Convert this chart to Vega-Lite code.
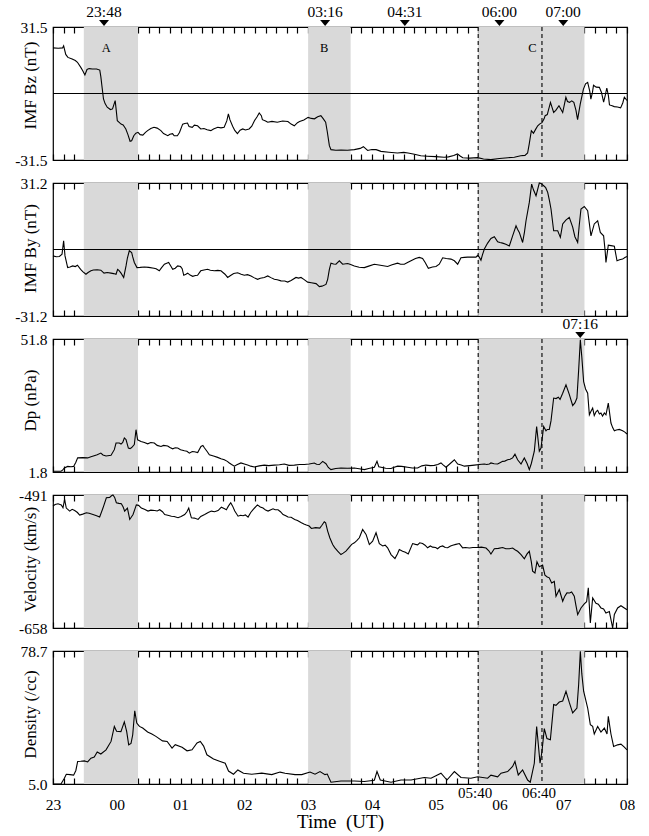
{
  "$schema": "https://vega.github.io/schema/vega-lite/v6.json",
  "padding": {"top": 4, "left": 14, "right": 5, "bottom": 4},
  "spacing": 23,
  "bounds": "flush",
  "config": {
    "font": "Liberation Serif",
    "view": {"stroke": "black", "strokeWidth": 1.2},
    "axis": {"grid": false, "domain": false, "labelFont": "Liberation Serif", "titleFont": "Liberation Serif", "labelColor": "black", "titleColor": "black", "tickColor": "black", "labelFontSize": 15.5, "titleFontSize": 17, "titleFontWeight": "normal"},
    "axisX": {"tickSize": -6, "tickWidth": 1.2, "tickCount": 54, "labelFlush": false, "labelOverlap": false},
    "axisY": {"ticks": false, "labelPadding": 6, "labelExpr": "replace(datum.label, '\u2212', '-')", "titleX": -23, "titleBaseline": "middle", "titleAngle": -90, "titleAlign": "center"}
  },
  "datasets": {
    "bands": [{"start": 29, "end": 80}, {"start": 240, "end": 280}, {"start": 400, "end": 500}],
    "cuts": [{"minute": 400, "label": "05:40"}, {"minute": 460, "label": "06:40"}],
    "events": [{"minute": 48, "label": "23:48"}, {"minute": 256, "label": "03:16"}, {"minute": 331, "label": "04:31"}, {"minute": 420, "label": "06:00"}, {"minute": 480, "label": "07:00"}],
    "peak": [{"minute": 496, "label": "07:16"}],
    "regions": [{"minute": 50, "value": 21.5, "label": "A"}, {"minute": 255, "value": 21.5, "label": "B"}, {"minute": 451, "value": 21.5, "label": "C"}],
    "bz": [
      {"minute":0,"value":21.6},{"minute":5,"value":21.4},{"minute":9,"value":21.6},{"minute":10,"value":22.6},{"minute":12,"value":18.5},{"minute":14,"value":17.1},{"minute":18,"value":16.3},{"minute":21,"value":15.6},{"minute":23,"value":14.8},{"minute":26,"value":12.5},{"minute":28,"value":10.8},{"minute":30,"value":8.8},{"minute":32,"value":11.4},{"minute":34,"value":11.8},{"minute":37,"value":11.6},{"minute":41,"value":11.6},{"minute":44,"value":11.1},{"minute":45,"value":8},{"minute":46,"value":3.7},{"minute":47.5,"value":-2.6},{"minute":49,"value":-4.8},{"minute":51,"value":-6.5},{"minute":54,"value":-7.6},{"minute":56,"value":-7.3},{"minute":58.5,"value":-3.4},{"minute":59.5,"value":-8},{"minute":60.5,"value":-12.9},{"minute":62,"value":-13.6},{"minute":64,"value":-14.5},{"minute":66,"value":-14.9},{"minute":68.5,"value":-16.8},{"minute":70.5,"value":-19.5},{"minute":72.5,"value":-22.6},{"minute":74,"value":-22.4},{"minute":76,"value":-20},{"minute":78,"value":-18.8},{"minute":80,"value":-18.4},{"minute":82,"value":-19.5},{"minute":84.5,"value":-19.7},{"minute":87,"value":-18.4},{"minute":89,"value":-17.6},{"minute":92,"value":-16.6},{"minute":95,"value":-16},{"minute":98,"value":-16.4},{"minute":101.5,"value":-17.6},{"minute":104,"value":-19},{"minute":108,"value":-20},{"minute":110,"value":-19.3},{"minute":112.5,"value":-19},{"minute":114,"value":-20},{"minute":117,"value":-20},{"minute":119,"value":-18.5},{"minute":122,"value":-14.5},{"minute":124,"value":-14.2},{"minute":126.5,"value":-14},{"minute":128,"value":-15.6},{"minute":131,"value":-16},{"minute":133,"value":-15},{"minute":136,"value":-15.3},{"minute":139,"value":-16.8},{"minute":142,"value":-16.6},{"minute":145,"value":-17.2},{"minute":148.5,"value":-17.6},{"minute":151,"value":-16.8},{"minute":155,"value":-16},{"minute":158,"value":-16.3},{"minute":161,"value":-16},{"minute":163.5,"value":-13},{"minute":165,"value":-9.7},{"minute":166.5,"value":-12.5},{"minute":169,"value":-15.5},{"minute":171,"value":-17.5},{"minute":173.5,"value":-19},{"minute":176,"value":-17.4},{"minute":178.5,"value":-16.8},{"minute":181,"value":-17.3},{"minute":184.5,"value":-16.8},{"minute":187,"value":-15.5},{"minute":189.5,"value":-12.9},{"minute":192,"value":-11},{"minute":194,"value":-9.2},{"minute":196,"value":-10.5},{"minute":197,"value":-12.4},{"minute":200,"value":-13},{"minute":202,"value":-13.6},{"minute":206,"value":-13.2},{"minute":211,"value":-13.6},{"minute":216,"value":-13},{"minute":221,"value":-13.3},{"minute":224,"value":-14.5},{"minute":227,"value":-15.3},{"minute":230,"value":-13.8},{"minute":232,"value":-13.3},{"minute":236,"value":-12.5},{"minute":240,"value":-11.3},{"minute":243,"value":-11.8},{"minute":246,"value":-12},{"minute":249,"value":-11},{"minute":252,"value":-10.5},{"minute":254,"value":-11.8},{"minute":256.5,"value":-13.6},{"minute":258,"value":-18},{"minute":260,"value":-24.7},{"minute":261.5,"value":-26.6},{"minute":266,"value":-26.9},{"minute":271,"value":-26.8},{"minute":277,"value":-26.9},{"minute":283.5,"value":-26.6},{"minute":289,"value":-26},{"minute":292,"value":-25.2},{"minute":296,"value":-27},{"minute":300,"value":-26.5},{"minute":304,"value":-26.6},{"minute":308.5,"value":-27.4},{"minute":316,"value":-27.8},{"minute":324,"value":-28.2},{"minute":330,"value":-27.9},{"minute":334,"value":-28.2},{"minute":340,"value":-28.8},{"minute":346,"value":-29.5},{"minute":352,"value":-29.7},{"minute":360,"value":-29.9},{"minute":368,"value":-30.2},{"minute":372,"value":-30},{"minute":377,"value":-29.4},{"minute":380.5,"value":-28.6},{"minute":383,"value":-29.6},{"minute":385.5,"value":-30.4},{"minute":392,"value":-30.6},{"minute":399.5,"value":-30.4},{"minute":405,"value":-31},{"minute":412,"value":-31.3},{"minute":420,"value":-30.8},{"minute":428,"value":-30.4},{"minute":434,"value":-30.2},{"minute":440,"value":-29.5},{"minute":444,"value":-29.3},{"minute":446.5,"value":-28.2},{"minute":448,"value":-24},{"minute":450,"value":-17.6},{"minute":452,"value":-18.8},{"minute":454,"value":-17},{"minute":456,"value":-15.3},{"minute":458,"value":-14.4},{"minute":460,"value":-13.8},{"minute":462,"value":-12},{"minute":463,"value":-10.5},{"minute":465,"value":-10},{"minute":468,"value":-4.2},{"minute":471,"value":-9},{"minute":473,"value":-8},{"minute":476,"value":-5.8},{"minute":479.5,"value":-9},{"minute":482.5,"value":-1.8},{"minute":484,"value":-3.8},{"minute":486,"value":-4.2},{"minute":488,"value":-3.5},{"minute":490,"value":-4.2},{"minute":492,"value":-8},{"minute":493.5,"value":-12.4},{"minute":496,"value":-5},{"minute":499,"value":2.1},{"minute":501,"value":4.6},{"minute":503,"value":5.3},{"minute":505,"value":1},{"minute":506,"value":-2.7},{"minute":507.5,"value":0.5},{"minute":508.5,"value":3.9},{"minute":511,"value":3},{"minute":514,"value":2.9},{"minute":516,"value":0.5},{"minute":518,"value":-4.1},{"minute":519.5,"value":-1},{"minute":521,"value":2.6},{"minute":522.5,"value":-1},{"minute":523.5,"value":-5.4},{"minute":526,"value":-5.8},{"minute":528,"value":-6.2},{"minute":531,"value":-6.4},{"minute":534,"value":-6.8},{"minute":536,"value":-4.5},{"minute":537.5,"value":-1.7},{"minute":540,"value":-3.3}
    ],
    "by": [
      {"minute":0,"value":-3},{"minute":3,"value":-3.4},{"minute":6,"value":-3.3},{"minute":8.5,"value":-2.2},{"minute":10,"value":4.1},{"minute":11.3,"value":-3},{"minute":13.8,"value":-8.5},{"minute":16,"value":-8.2},{"minute":18.5,"value":-7.7},{"minute":21,"value":-8},{"minute":23,"value":-7.4},{"minute":26,"value":-9.3},{"minute":28,"value":-10.4},{"minute":31,"value":-11.6},{"minute":33,"value":-10.8},{"minute":35.7,"value":-10},{"minute":38,"value":-9.6},{"minute":41.6,"value":-9.5},{"minute":45,"value":-9.7},{"minute":48,"value":-11.1},{"minute":51,"value":-10.8},{"minute":54.6,"value":-11.1},{"minute":57,"value":-11.3},{"minute":59.3,"value":-11.6},{"minute":60.8,"value":-9.3},{"minute":62,"value":-9.8},{"minute":64,"value":-11.1},{"minute":66.5,"value":-13.1},{"minute":68.7,"value":-7.7},{"minute":70,"value":-4},{"minute":71.8,"value":-0.6},{"minute":74,"value":-1.4},{"minute":75,"value":-3.5},{"minute":76.5,"value":-6.1},{"minute":79,"value":-8.5},{"minute":82,"value":-8.4},{"minute":86,"value":-8.2},{"minute":90,"value":-8.4},{"minute":95,"value":-8.8},{"minute":97,"value":-9},{"minute":100,"value":-10},{"minute":102,"value":-8.6},{"minute":104.8,"value":-6.9},{"minute":107,"value":-6.4},{"minute":108.8,"value":-6.1},{"minute":110.5,"value":-7.5},{"minute":112.6,"value":-9.3},{"minute":115,"value":-8.8},{"minute":117.3,"value":-7.7},{"minute":120,"value":-8},{"minute":121.5,"value":-9},{"minute":123,"value":-12.1},{"minute":125,"value":-11.6},{"minute":126.7,"value":-11.1},{"minute":129,"value":-12},{"minute":131.4,"value":-12.6},{"minute":134,"value":-12.2},{"minute":136,"value":-12.1},{"minute":139,"value":-10},{"minute":142,"value":-9.6},{"minute":145.5,"value":-9.3},{"minute":148,"value":-9.7},{"minute":151.8,"value":-10},{"minute":155,"value":-9.8},{"minute":158,"value":-10},{"minute":161.8,"value":-11.6},{"minute":164.3,"value":-13.1},{"minute":167.4,"value":-12.1},{"minute":170,"value":-11.3},{"minute":173.7,"value":-10.9},{"minute":177,"value":-11.6},{"minute":180,"value":-12.1},{"minute":183,"value":-11.8},{"minute":186.3,"value":-12.4},{"minute":189,"value":-13.2},{"minute":192.5,"value":-14},{"minute":195,"value":-13.5},{"minute":198.8,"value":-13.1},{"minute":202,"value":-12.4},{"minute":205,"value":-13.2},{"minute":208.2,"value":-14},{"minute":211,"value":-14.2},{"minute":214.5,"value":-14.7},{"minute":218,"value":-14.8},{"minute":220.8,"value":-15.3},{"minute":224,"value":-14.5},{"minute":228.6,"value":-13.1},{"minute":231,"value":-13.4},{"minute":233.3,"value":-13.1},{"minute":236,"value":-14},{"minute":239.6,"value":-15.3},{"minute":243,"value":-15.6},{"minute":247.5,"value":-16},{"minute":250.6,"value":-17.4},{"minute":253,"value":-17.2},{"minute":256.8,"value":-16.4},{"minute":258.4,"value":-14},{"minute":260,"value":-9.3},{"minute":261.5,"value":-6.4},{"minute":264,"value":-6.8},{"minute":266.2,"value":-6.9},{"minute":269.4,"value":-5.3},{"minute":272.5,"value":-6.9},{"minute":277.2,"value":-6.6},{"minute":280,"value":-7},{"minute":283.5,"value":-7.7},{"minute":288,"value":-8.3},{"minute":292.9,"value":-8.5},{"minute":297,"value":-7.8},{"minute":302.3,"value":-6.9},{"minute":308,"value":-7.4},{"minute":314.8,"value":-8},{"minute":319,"value":-7.2},{"minute":324.2,"value":-6.4},{"minute":327,"value":-6.9},{"minute":330.5,"value":-6.9},{"minute":334,"value":-6},{"minute":336.8,"value":-5.3},{"minute":341,"value":-4.2},{"minute":344.6,"value":-3.7},{"minute":347.7,"value":-4.2},{"minute":350,"value":-6},{"minute":353.1,"value":-8.8},{"minute":357,"value":-8.2},{"minute":360.3,"value":-8},{"minute":363.4,"value":-6.9},{"minute":366.6,"value":-3.9},{"minute":370,"value":-4.2},{"minute":374.4,"value":-4.5},{"minute":377.6,"value":-5.3},{"minute":380.7,"value":-6.9},{"minute":383.8,"value":-3.9},{"minute":387,"value":-3.7},{"minute":390.1,"value":-3.6},{"minute":394,"value":-3.5},{"minute":398,"value":-3.6},{"minute":399.5,"value":-2.7},{"minute":401,"value":-3.5},{"minute":402.6,"value":-5},{"minute":404,"value":-2.5},{"minute":405.8,"value":0.2},{"minute":408.9,"value":3},{"minute":412,"value":5.2},{"minute":415.2,"value":6},{"minute":418.3,"value":3.6},{"minute":420.5,"value":3.3},{"minute":423,"value":3},{"minute":426,"value":2.5},{"minute":429.3,"value":1.7},{"minute":432.4,"value":6.4},{"minute":435.6,"value":11.1},{"minute":437,"value":9.5},{"minute":438.7,"value":8},{"minute":441.8,"value":3.3},{"minute":443.5,"value":8},{"minute":445,"value":13.5},{"minute":448.1,"value":22.1},{"minute":450.3,"value":30.7},{"minute":452,"value":28},{"minute":454.4,"value":25.2},{"minute":457.5,"value":31.2},{"minute":459,"value":31},{"minute":461.6,"value":29.9},{"minute":463.5,"value":29},{"minute":465.4,"value":26.8},{"minute":467,"value":23},{"minute":468.5,"value":19},{"minute":471,"value":8.8},{"minute":474.8,"value":8.8},{"minute":477.3,"value":5.7},{"minute":479.5,"value":12},{"minute":482.5,"value":13.8},{"minute":485.7,"value":15.1},{"minute":488.9,"value":10.5},{"minute":491,"value":6},{"minute":493.6,"value":3.3},{"minute":495,"value":11},{"minute":496.7,"value":19},{"minute":499.8,"value":20.2},{"minute":503,"value":18.2},{"minute":506.1,"value":6.4},{"minute":509.2,"value":12},{"minute":512.4,"value":13.5},{"minute":514.9,"value":8},{"minute":518,"value":6.4},{"minute":519.5,"value":-1},{"minute":520.2,"value":-6.1},{"minute":522.4,"value":2},{"minute":524.9,"value":1.8},{"minute":528.1,"value":1.5},{"minute":530.6,"value":-5.3},{"minute":533,"value":-4.8},{"minute":535.9,"value":-4.5},{"minute":538,"value":-3.8},{"minute":540,"value":-3.3}
    ],
    "dp": [
      {"minute":0,"value":2.1},{"minute":7.5,"value":2.1},{"minute":9,"value":2.5},{"minute":10.7,"value":3.3},{"minute":13.8,"value":3.9},{"minute":17,"value":3.8},{"minute":19.4,"value":3.9},{"minute":21.5,"value":5.5},{"minute":23.2,"value":7.1},{"minute":28,"value":7.2},{"minute":32.6,"value":7.1},{"minute":35.7,"value":7.5},{"minute":38,"value":7.8},{"minute":41.6,"value":8.3},{"minute":45,"value":8.9},{"minute":47,"value":8.2},{"minute":49.9,"value":7.8},{"minute":54.6,"value":8.1},{"minute":57.7,"value":10.2},{"minute":59.3,"value":12.7},{"minute":62.4,"value":12.7},{"minute":64,"value":12.3},{"minute":65.6,"value":12.9},{"minute":67.1,"value":14.6},{"minute":68.7,"value":14},{"minute":70.9,"value":10.8},{"minute":72.5,"value":10.6},{"minute":74,"value":11},{"minute":76.5,"value":12.1},{"minute":78.1,"value":17.7},{"minute":79.6,"value":13.9},{"minute":82.8,"value":13.3},{"minute":86,"value":12.9},{"minute":89.1,"value":12.4},{"minute":92,"value":12.9},{"minute":95.3,"value":12.7},{"minute":98,"value":11.8},{"minute":101.6,"value":11.4},{"minute":104,"value":11.8},{"minute":107.9,"value":11.6},{"minute":110,"value":11},{"minute":112.6,"value":10.5},{"minute":115,"value":10.9},{"minute":117.3,"value":10.8},{"minute":120,"value":10.2},{"minute":123.6,"value":9.8},{"minute":126,"value":9.6},{"minute":128.3,"value":8.9},{"minute":131,"value":9.5},{"minute":133,"value":9.4},{"minute":136.1,"value":9.1},{"minute":139.2,"value":11.4},{"minute":141,"value":11.8},{"minute":142.4,"value":10.9},{"minute":145,"value":9.5},{"minute":147.1,"value":8.3},{"minute":151,"value":7.8},{"minute":154.9,"value":7.3},{"minute":158,"value":6.8},{"minute":161.2,"value":6.4},{"minute":164,"value":5.8},{"minute":165.9,"value":5.2},{"minute":168,"value":4.6},{"minute":170.6,"value":4},{"minute":173,"value":4.5},{"minute":176.8,"value":5.2},{"minute":180,"value":4.8},{"minute":183.1,"value":4.4},{"minute":186,"value":4},{"minute":189.4,"value":3.7},{"minute":194,"value":4.1},{"minute":198.8,"value":4.4},{"minute":203,"value":4.2},{"minute":208.2,"value":4.4},{"minute":213,"value":4.5},{"minute":217.6,"value":4.8},{"minute":222,"value":4.3},{"minute":227.1,"value":4.4},{"minute":232,"value":4.6},{"minute":236.5,"value":4.6},{"minute":241,"value":4.8},{"minute":245.8,"value":5.2},{"minute":248,"value":4.7},{"minute":250.6,"value":4.6},{"minute":253.7,"value":5.8},{"minute":256.8,"value":4.9},{"minute":259,"value":3.5},{"minute":261.5,"value":2.7},{"minute":266,"value":3.1},{"minute":270.9,"value":3.3},{"minute":277,"value":3.2},{"minute":283.5,"value":3.3},{"minute":288,"value":3},{"minute":292.9,"value":2.7},{"minute":297,"value":3.1},{"minute":302.3,"value":3.6},{"minute":304.8,"value":5.8},{"minute":306.5,"value":3.8},{"minute":308.6,"value":3.6},{"minute":313,"value":3.2},{"minute":318,"value":3.1},{"minute":321,"value":3.6},{"minute":324.2,"value":4},{"minute":328,"value":3.9},{"minute":333.6,"value":3.6},{"minute":338,"value":3.3},{"minute":343,"value":3.3},{"minute":347,"value":4.1},{"minute":350.9,"value":4.4},{"minute":355,"value":4.2},{"minute":358.7,"value":4.3},{"minute":362,"value":4.6},{"minute":365,"value":5.2},{"minute":367,"value":4.5},{"minute":369.7,"value":3.6},{"minute":374,"value":5.1},{"minute":377.6,"value":6.4},{"minute":380.7,"value":4.8},{"minute":384,"value":4.4},{"minute":387,"value":4},{"minute":392,"value":4.2},{"minute":396.4,"value":4.4},{"minute":401,"value":4.6},{"minute":405.8,"value":4.8},{"minute":408,"value":4.6},{"minute":410.5,"value":4.8},{"minute":412,"value":5.2},{"minute":415,"value":4.9},{"minute":418.3,"value":4.8},{"minute":420.5,"value":5.3},{"minute":423,"value":5.8},{"minute":425,"value":5.9},{"minute":427.7,"value":6.4},{"minute":430,"value":6.6},{"minute":432.4,"value":7.1},{"minute":434.6,"value":8.5},{"minute":437.1,"value":6.4},{"minute":440.3,"value":4.8},{"minute":443.4,"value":7.1},{"minute":446,"value":5},{"minute":448.1,"value":2.7},{"minute":450,"value":5},{"minute":452.8,"value":9.6},{"minute":455,"value":18.9},{"minute":457.5,"value":9.6},{"minute":459.1,"value":10.8},{"minute":461.6,"value":18.9},{"minute":463.8,"value":17.3},{"minute":465,"value":17.8},{"minute":466.9,"value":17.8},{"minute":468.5,"value":21},{"minute":471,"value":29.6},{"minute":473.2,"value":29.4},{"minute":475.4,"value":29.9},{"minute":477,"value":29.1},{"minute":479.5,"value":31.4},{"minute":482.6,"value":34.6},{"minute":485.7,"value":31},{"minute":488.9,"value":26.8},{"minute":491,"value":27.8},{"minute":492.9,"value":29.6},{"minute":494.5,"value":40},{"minute":496.1,"value":51.5},{"minute":497.5,"value":45},{"minute":499.2,"value":35.8},{"minute":501,"value":33},{"minute":503,"value":31.4},{"minute":504.6,"value":23.3},{"minute":506,"value":24.5},{"minute":507.7,"value":25.8},{"minute":509.2,"value":23},{"minute":511,"value":24.5},{"minute":512.4,"value":25},{"minute":514,"value":23.6},{"minute":515.5,"value":24},{"minute":517,"value":22.8},{"minute":518.7,"value":24},{"minute":520.2,"value":23.3},{"minute":522.4,"value":27.7},{"minute":524.9,"value":20.2},{"minute":526.5,"value":18.5},{"minute":528.1,"value":17.3},{"minute":530,"value":17.6},{"minute":532.8,"value":17.8},{"minute":535.9,"value":17.3},{"minute":538,"value":16.8},{"minute":540,"value":16.1}
    ],
    "vel": [
      {"minute":0,"value":-504.8},{"minute":2,"value":-503},{"minute":4.7,"value":-502},{"minute":7.8,"value":-503.4},{"minute":9.4,"value":-507},{"minute":10.9,"value":-496.5},{"minute":12.5,"value":-507.4},{"minute":15.7,"value":-511.2},{"minute":18,"value":-509},{"minute":20.4,"value":-510.5},{"minute":23,"value":-513},{"minute":25.1,"value":-516.2},{"minute":28,"value":-515},{"minute":31.4,"value":-513.3},{"minute":34,"value":-514},{"minute":37.6,"value":-515.5},{"minute":41,"value":-517},{"minute":43.9,"value":-518.7},{"minute":47,"value":-507.4},{"minute":50.2,"value":-494.4},{"minute":53.3,"value":-494},{"minute":55,"value":-492},{"minute":56.4,"value":-491},{"minute":58,"value":-494},{"minute":59.6,"value":-500.7},{"minute":62,"value":-501.5},{"minute":64.3,"value":-502},{"minute":66,"value":-506},{"minute":67.4,"value":-511.2},{"minute":70,"value":-507.4},{"minute":72.2,"value":-521.7},{"minute":75.3,"value":-515.5},{"minute":78.4,"value":-503.4},{"minute":80.5,"value":-504},{"minute":83.1,"value":-507.4},{"minute":86,"value":-509},{"minute":89.4,"value":-511.2},{"minute":92,"value":-510},{"minute":95.7,"value":-510.5},{"minute":98,"value":-511},{"minute":100.4,"value":-509.5},{"minute":103,"value":-512},{"minute":105.1,"value":-515.5},{"minute":108,"value":-516.5},{"minute":111.4,"value":-517.6},{"minute":114,"value":-518},{"minute":117.6,"value":-519.6},{"minute":120.5,"value":-518},{"minute":123.9,"value":-515.5},{"minute":126,"value":-512},{"minute":127.7,"value":-507.4},{"minute":129,"value":-514},{"minute":130.2,"value":-519.6},{"minute":133,"value":-520},{"minute":136.5,"value":-521.7},{"minute":139,"value":-518},{"minute":142.7,"value":-515.5},{"minute":146,"value":-513},{"minute":149,"value":-511.2},{"minute":152,"value":-512},{"minute":155.3,"value":-510.5},{"minute":158.4,"value":-506.3},{"minute":161,"value":-508},{"minute":163.1,"value":-509.4},{"minute":165,"value":-505},{"minute":167.2,"value":-500.7},{"minute":169,"value":-505},{"minute":171,"value":-511.2},{"minute":174.1,"value":-517.6},{"minute":176.5,"value":-516.5},{"minute":178.8,"value":-517},{"minute":181,"value":-516},{"minute":183.5,"value":-518.7},{"minute":186,"value":-513},{"minute":188.2,"value":-509.4},{"minute":192.3,"value":-503.4},{"minute":195,"value":-506},{"minute":197.6,"value":-507.4},{"minute":200,"value":-510},{"minute":202.3,"value":-511.2},{"minute":205,"value":-509.4},{"minute":207,"value":-508.4},{"minute":209,"value":-509.5},{"minute":211.7,"value":-509.5},{"minute":214,"value":-512},{"minute":216.4,"value":-515.5},{"minute":219,"value":-517},{"minute":221.1,"value":-518.7},{"minute":224,"value":-519},{"minute":227.4,"value":-521.7},{"minute":230,"value":-523},{"minute":233.7,"value":-525.9},{"minute":236,"value":-527.5},{"minute":238.4,"value":-528.8},{"minute":241,"value":-530},{"minute":243.1,"value":-533},{"minute":247,"value":-532},{"minute":251,"value":-532.5},{"minute":253,"value":-529},{"minute":255.2,"value":-524.6},{"minute":256.5,"value":-526},{"minute":258.4,"value":-536.3},{"minute":260.5,"value":-545},{"minute":263.1,"value":-553.2},{"minute":265,"value":-557},{"minute":267.8,"value":-561.5},{"minute":270.9,"value":-565.8},{"minute":273,"value":-564},{"minute":275.6,"value":-561.5},{"minute":278.8,"value":-556.5},{"minute":281,"value":-553},{"minute":283.5,"value":-551},{"minute":286,"value":-548},{"minute":288.2,"value":-544.7},{"minute":291.3,"value":-534.3},{"minute":294.5,"value":-540.5},{"minute":297.6,"value":-553.2},{"minute":300.7,"value":-549},{"minute":303.9,"value":-538.4},{"minute":307,"value":-552},{"minute":310.2,"value":-555},{"minute":312.5,"value":-554},{"minute":314.8,"value":-557.3},{"minute":318,"value":-565.8},{"minute":321.7,"value":-570.8},{"minute":324,"value":-565},{"minute":325.8,"value":-559.4},{"minute":328.9,"value":-561.5},{"minute":331.5,"value":-563},{"minute":334.2,"value":-565},{"minute":338.3,"value":-552},{"minute":341,"value":-553},{"minute":343,"value":-553.6},{"minute":345,"value":-551},{"minute":347.7,"value":-552},{"minute":350,"value":-554},{"minute":352.4,"value":-557.3},{"minute":355,"value":-555},{"minute":357.1,"value":-556.5},{"minute":360,"value":-557},{"minute":361.8,"value":-558.5},{"minute":364,"value":-556},{"minute":366.6,"value":-555},{"minute":369,"value":-557},{"minute":371.3,"value":-557.3},{"minute":374,"value":-555},{"minute":376,"value":-554},{"minute":379,"value":-553},{"minute":382.3,"value":-552},{"minute":385.4,"value":-557.3},{"minute":388,"value":-557},{"minute":391.7,"value":-557.6},{"minute":395,"value":-557},{"minute":399.5,"value":-557},{"minute":403,"value":-556.5},{"minute":407.4,"value":-557.6},{"minute":410,"value":-561},{"minute":412,"value":-565},{"minute":415.2,"value":-558.5},{"minute":419,"value":-558},{"minute":423,"value":-557},{"minute":426,"value":-558.5},{"minute":429.3,"value":-558.5},{"minute":432.4,"value":-557.6},{"minute":435,"value":-560},{"minute":437.1,"value":-561.7},{"minute":440.3,"value":-565.8},{"minute":443.4,"value":-571.2},{"minute":446,"value":-565},{"minute":448.1,"value":-561.7},{"minute":450,"value":-575},{"minute":451.2,"value":-586.6},{"minute":453.4,"value":-589},{"minute":455.3,"value":-574.9},{"minute":457.5,"value":-581},{"minute":460.6,"value":-579},{"minute":462.8,"value":-591.7},{"minute":465,"value":-594},{"minute":466.9,"value":-595},{"minute":469.1,"value":-601.4},{"minute":471.6,"value":-599.5},{"minute":473.2,"value":-618.1},{"minute":476.3,"value":-609.7},{"minute":479.5,"value":-624.4},{"minute":481.5,"value":-618},{"minute":483.5,"value":-613.9},{"minute":486,"value":-614},{"minute":487.9,"value":-612.8},{"minute":490.4,"value":-618.1},{"minute":492,"value":-630},{"minute":493.6,"value":-641.2},{"minute":496.7,"value":-632.8},{"minute":499.8,"value":-627.8},{"minute":502,"value":-625},{"minute":503.6,"value":-607.6},{"minute":505.5,"value":-651.7},{"minute":507.7,"value":-620.2},{"minute":510.8,"value":-627},{"minute":513,"value":-628},{"minute":515.5,"value":-632.8},{"minute":518,"value":-634},{"minute":520.2,"value":-639.1},{"minute":523.4,"value":-637.4},{"minute":526.5,"value":-658},{"minute":528.1,"value":-641},{"minute":531.2,"value":-632.8},{"minute":534.3,"value":-630},{"minute":537.5,"value":-632.8},{"minute":540,"value":-635}
    ],
    "den": [
      {"minute":0,"value":5},{"minute":7.5,"value":5},{"minute":10.7,"value":8.2},{"minute":12.5,"value":10.4},{"minute":16,"value":10.2},{"minute":19.4,"value":9.9},{"minute":21.5,"value":12.5},{"minute":23.2,"value":17.5},{"minute":26,"value":17.6},{"minute":29.5,"value":17.8},{"minute":32.6,"value":17.2},{"minute":35.7,"value":19.3},{"minute":38.8,"value":20},{"minute":41.6,"value":22.7},{"minute":45,"value":21.6},{"minute":49.9,"value":23.9},{"minute":54.6,"value":28.6},{"minute":57.7,"value":36.9},{"minute":59.8,"value":34.2},{"minute":63.9,"value":34},{"minute":67.1,"value":39.4},{"minute":69.3,"value":34.2},{"minute":71.2,"value":26.7},{"minute":73.4,"value":27.5},{"minute":75,"value":32.3},{"minute":76.9,"value":45.6},{"minute":78.8,"value":38.8},{"minute":81.3,"value":36.9},{"minute":84.4,"value":36},{"minute":89,"value":33.8},{"minute":93,"value":32.7},{"minute":96.8,"value":31.4},{"minute":103,"value":28.9},{"minute":107.4,"value":28.6},{"minute":112,"value":24.9},{"minute":115,"value":26.8},{"minute":121.4,"value":25.4},{"minute":126.1,"value":23.4},{"minute":130.8,"value":24},{"minute":135.5,"value":27.7},{"minute":138.6,"value":28.6},{"minute":141.7,"value":26},{"minute":144.8,"value":21.2},{"minute":151,"value":18.9},{"minute":157.3,"value":17.5},{"minute":162,"value":16.5},{"minute":165.1,"value":12.2},{"minute":169.8,"value":10.4},{"minute":173.9,"value":12.8},{"minute":179.2,"value":11},{"minute":187,"value":10.4},{"minute":196.4,"value":11},{"minute":205.8,"value":10.2},{"minute":213.6,"value":11.6},{"minute":218.3,"value":11},{"minute":227.7,"value":10.2},{"minute":234,"value":10.2},{"minute":241.8,"value":11.6},{"minute":246.5,"value":10.4},{"minute":251.2,"value":11.9},{"minute":255.9,"value":10.2},{"minute":258,"value":10.5},{"minute":261.5,"value":6},{"minute":270.9,"value":6.7},{"minute":283.5,"value":6.7},{"minute":292.9,"value":6.4},{"minute":302.3,"value":7.1},{"minute":304.8,"value":11.9},{"minute":307.9,"value":7.2},{"minute":318,"value":6},{"minute":327.4,"value":7.2},{"minute":336.8,"value":7.2},{"minute":349.3,"value":8.6},{"minute":355.6,"value":8.2},{"minute":365,"value":11},{"minute":370.6,"value":7.2},{"minute":377.6,"value":11.9},{"minute":383.8,"value":8.6},{"minute":393.2,"value":8.2},{"minute":399.5,"value":9},{"minute":408.9,"value":8.2},{"minute":412,"value":9.9},{"minute":418.3,"value":9},{"minute":421.5,"value":11},{"minute":427.7,"value":11.9},{"minute":432.4,"value":14.7},{"minute":434.6,"value":17.5},{"minute":437.7,"value":10},{"minute":441.8,"value":12.8},{"minute":446.5,"value":7.2},{"minute":449,"value":6},{"minute":452.8,"value":16.5},{"minute":455,"value":36.9},{"minute":458.2,"value":16.5},{"minute":460,"value":23},{"minute":462.2,"value":35.7},{"minute":464.7,"value":30.2},{"minute":467.9,"value":29.5},{"minute":471,"value":49},{"minute":473.2,"value":48.6},{"minute":476.3,"value":50.4},{"minute":479.5,"value":51},{"minute":482.6,"value":56.4},{"minute":485.7,"value":50.2},{"minute":488.9,"value":44.4},{"minute":492.9,"value":47.1},{"minute":494.5,"value":60},{"minute":496.1,"value":78.5},{"minute":497.5,"value":66},{"minute":499.2,"value":56.4},{"minute":503,"value":47.1},{"minute":505.5,"value":37.9},{"minute":507.7,"value":36.9},{"minute":509.2,"value":32.7},{"minute":512.4,"value":36.9},{"minute":515.5,"value":33.8},{"minute":518.7,"value":36},{"minute":521.2,"value":32.7},{"minute":522.4,"value":42.5},{"minute":524.9,"value":32.7},{"minute":527.4,"value":25.8},{"minute":531.2,"value":26.7},{"minute":534.3,"value":27.1},{"minute":537.5,"value":25.4},{"minute":540,"value":23.9}
    ]
  },
  "vconcat": [
    {
      "width": 574, "height": 133,
      "resolve": {"axis": {"x": "independent"}},
      "layer": [
        {"data": {"name": "bands"}, "mark": {"type": "rect", "color": "#d9d9d9"},
         "encoding": {"x": {"field": "start", "type": "quantitative", "scale": {"domain": [0, 540], "nice": false, "zero": false}, "axis": {"orient": "top", "labels": false, "title": null}}, "x2": {"field": "end"}}},
        {"data": {"name": "cuts"}, "mark": {"type": "rule", "color": "black", "strokeWidth": 1.1, "strokeDash": [4, 3]},
         "encoding": {"x": {"field": "minute", "type": "quantitative", "scale": {"domain": [0, 540], "nice": false, "zero": false}, "axis": null}}},
        {"data": {"name": "bz"}, "mark": {"type": "line", "color": "black", "strokeWidth": 1.1},
         "encoding": {
           "x": {"field": "minute", "type": "quantitative", "scale": {"domain": [0, 540], "nice": false, "zero": false}, "axis": {"orient": "bottom", "labels": false, "title": null}},
           "y": {"field": "value", "type": "quantitative", "scale": {"domain": [-31.5, 31.5], "nice": false, "zero": false}, "axis": {"values": [-31.5, 31.5], "format": ".1f", "title": "IMF Bz (nT)", "titleY": 58}}}},
        {"data": {"values": [{}]}, "mark": {"type": "rule", "color": "black", "strokeWidth": 1.2},
         "encoding": {"y": {"datum": 0, "type": "quantitative", "scale": {"domain": [-31.5, 31.5], "nice": false, "zero": false}}}},
        {"data": {"name": "regions"}, "mark": {"type": "text", "font": "Liberation Serif", "fontSize": 12.5, "baseline": "middle", "color": "black"},
         "encoding": {"x": {"field": "minute", "type": "quantitative", "scale": {"domain": [0, 540], "nice": false, "zero": false}, "axis": null}, "y": {"field": "value", "type": "quantitative", "scale": {"domain": [-31.5, 31.5], "nice": false, "zero": false}}, "text": {"field": "label"}}},
        {"data": {"name": "events"}, "mark": {"type": "point", "shape": "M-1,-0.6L1,-0.6L0,0.6Z", "filled": true, "color": "black", "opacity": 1, "size": 100, "yOffset": -4},
         "encoding": {"x": {"field": "minute", "type": "quantitative", "scale": {"domain": [0, 540], "nice": false, "zero": false}, "axis": null}, "y": {"datum": 31.5, "type": "quantitative", "scale": {"domain": [-31.5, 31.5], "nice": false, "zero": false}}}},
        {"data": {"name": "events"}, "mark": {"type": "text", "font": "Liberation Serif", "fontSize": 15.5, "baseline": "alphabetic", "dy": -10, "color": "black"},
         "encoding": {"x": {"field": "minute", "type": "quantitative", "scale": {"domain": [0, 540], "nice": false, "zero": false}, "axis": null}, "y": {"datum": 31.5, "type": "quantitative", "scale": {"domain": [-31.5, 31.5], "nice": false, "zero": false}}, "text": {"field": "label"}}}
      ]
    },
    {
      "width": 574, "height": 133,
      "resolve": {"axis": {"x": "independent"}},
      "layer": [
        {"data": {"name": "bands"}, "mark": {"type": "rect", "color": "#d9d9d9"},
         "encoding": {"x": {"field": "start", "type": "quantitative", "scale": {"domain": [0, 540], "nice": false, "zero": false}, "axis": {"orient": "top", "labels": false, "title": null}}, "x2": {"field": "end"}}},
        {"data": {"name": "cuts"}, "mark": {"type": "rule", "color": "black", "strokeWidth": 1.1, "strokeDash": [4, 3]},
         "encoding": {"x": {"field": "minute", "type": "quantitative", "scale": {"domain": [0, 540], "nice": false, "zero": false}, "axis": null}}},
        {"data": {"name": "by"}, "mark": {"type": "line", "color": "black", "strokeWidth": 1.1},
         "encoding": {
           "x": {"field": "minute", "type": "quantitative", "scale": {"domain": [0, 540], "nice": false, "zero": false}, "axis": {"orient": "bottom", "labels": false, "title": null}},
           "y": {"field": "value", "type": "quantitative", "scale": {"domain": [-31.2, 31.2], "nice": false, "zero": false}, "axis": {"values": [-31.2, 31.2], "format": ".1f", "title": "IMF By (nT)", "titleY": 65}}}},
        {"data": {"values": [{}]}, "mark": {"type": "rule", "color": "black", "strokeWidth": 1.2},
         "encoding": {"y": {"datum": 0, "type": "quantitative", "scale": {"domain": [-31.2, 31.2], "nice": false, "zero": false}}}}
      ]
    },
    {
      "width": 574, "height": 133,
      "resolve": {"axis": {"x": "independent"}},
      "layer": [
        {"data": {"name": "bands"}, "mark": {"type": "rect", "color": "#d9d9d9"},
         "encoding": {"x": {"field": "start", "type": "quantitative", "scale": {"domain": [0, 540], "nice": false, "zero": false}, "axis": {"orient": "top", "labels": false, "title": null}}, "x2": {"field": "end"}}},
        {"data": {"name": "cuts"}, "mark": {"type": "rule", "color": "black", "strokeWidth": 1.1, "strokeDash": [4, 3]},
         "encoding": {"x": {"field": "minute", "type": "quantitative", "scale": {"domain": [0, 540], "nice": false, "zero": false}, "axis": null}}},
        {"data": {"name": "dp"}, "mark": {"type": "line", "color": "black", "strokeWidth": 1.1},
         "encoding": {
           "x": {"field": "minute", "type": "quantitative", "scale": {"domain": [0, 540], "nice": false, "zero": false}, "axis": {"orient": "bottom", "labels": false, "title": null}},
           "y": {"field": "value", "type": "quantitative", "scale": {"domain": [1.8, 51.8], "nice": false, "zero": false}, "axis": {"values": [1.8, 51.8], "format": ".1f", "title": "Dp (nPa)", "titleY": 61}}}},
        {"data": {"name": "peak"}, "mark": {"type": "point", "shape": "M-1,-0.6L1,-0.6L0,0.6Z", "filled": true, "color": "black", "opacity": 1, "size": 100, "yOffset": -4},
         "encoding": {"x": {"field": "minute", "type": "quantitative", "scale": {"domain": [0, 540], "nice": false, "zero": false}, "axis": null}, "y": {"datum": 51.8, "type": "quantitative", "scale": {"domain": [1.8, 51.8], "nice": false, "zero": false}}}},
        {"data": {"name": "peak"}, "mark": {"type": "text", "font": "Liberation Serif", "fontSize": 15.5, "baseline": "alphabetic", "dy": -10, "color": "black"},
         "encoding": {"x": {"field": "minute", "type": "quantitative", "scale": {"domain": [0, 540], "nice": false, "zero": false}, "axis": null}, "y": {"datum": 51.8, "type": "quantitative", "scale": {"domain": [1.8, 51.8], "nice": false, "zero": false}}, "text": {"field": "label"}}}
      ]
    },
    {
      "width": 574, "height": 133,
      "resolve": {"axis": {"x": "independent"}},
      "layer": [
        {"data": {"name": "bands"}, "mark": {"type": "rect", "color": "#d9d9d9"},
         "encoding": {"x": {"field": "start", "type": "quantitative", "scale": {"domain": [0, 540], "nice": false, "zero": false}, "axis": {"orient": "top", "labels": false, "title": null}}, "x2": {"field": "end"}}},
        {"data": {"name": "cuts"}, "mark": {"type": "rule", "color": "black", "strokeWidth": 1.1, "strokeDash": [4, 3]},
         "encoding": {"x": {"field": "minute", "type": "quantitative", "scale": {"domain": [0, 540], "nice": false, "zero": false}, "axis": null}}},
        {"data": {"name": "vel"}, "mark": {"type": "line", "color": "black", "strokeWidth": 1.1},
         "encoding": {
           "x": {"field": "minute", "type": "quantitative", "scale": {"domain": [0, 540], "nice": false, "zero": false}, "axis": {"orient": "bottom", "labels": false, "title": null}},
           "y": {"field": "value", "type": "quantitative", "scale": {"domain": [-658, -491], "nice": false, "zero": false}, "axis": {"values": [-658, -491], "format": "d", "title": "Velocity (km/s)", "titleY": 64}}}}
      ]
    },
    {
      "width": 574, "height": 133,
      "resolve": {"axis": {"x": "independent"}},
      "layer": [
        {"data": {"name": "bands"}, "mark": {"type": "rect", "color": "#d9d9d9"},
         "encoding": {"x": {"field": "start", "type": "quantitative", "scale": {"domain": [0, 540], "nice": false, "zero": false}, "axis": {"orient": "top", "labels": false, "title": null}}, "x2": {"field": "end"}}},
        {"data": {"name": "cuts"}, "mark": {"type": "rule", "color": "black", "strokeWidth": 1.1, "strokeDash": [4, 3]},
         "encoding": {"x": {"field": "minute", "type": "quantitative", "scale": {"domain": [0, 540], "nice": false, "zero": false}, "axis": null}}},
        {"data": {"name": "den"}, "mark": {"type": "line", "color": "black", "strokeWidth": 1.1},
         "encoding": {
           "x": {"field": "minute", "type": "quantitative", "scale": {"domain": [0, 540], "nice": false, "zero": false},
                 "axis": {"orient": "bottom", "labelExpr": "datum.value % 60 === 0 ? ['23','00','01','02','03','04','05','06','07','08'][datum.value / 60] : ''", "labelPadding": 19, "title": "Time\u00a0 (UT)", "titleFontSize": 19, "titlePadding": 0}},
           "y": {"field": "value", "type": "quantitative", "scale": {"domain": [5, 78.7], "nice": false, "zero": false}, "axis": {"values": [5, 78.7], "format": ".1f", "title": "Density (/cc)", "titleY": 63}}}},
        {"data": {"name": "cuts"}, "mark": {"type": "text", "font": "Liberation Serif", "fontSize": 15, "baseline": "alphabetic", "dy": 14, "dx": -3, "color": "black"},
         "encoding": {"x": {"field": "minute", "type": "quantitative", "scale": {"domain": [0, 540], "nice": false, "zero": false}, "axis": null}, "y": {"datum": 5, "type": "quantitative", "scale": {"domain": [5, 78.7], "nice": false, "zero": false}}, "text": {"field": "label"}}}
      ]
    }
  ]
}
